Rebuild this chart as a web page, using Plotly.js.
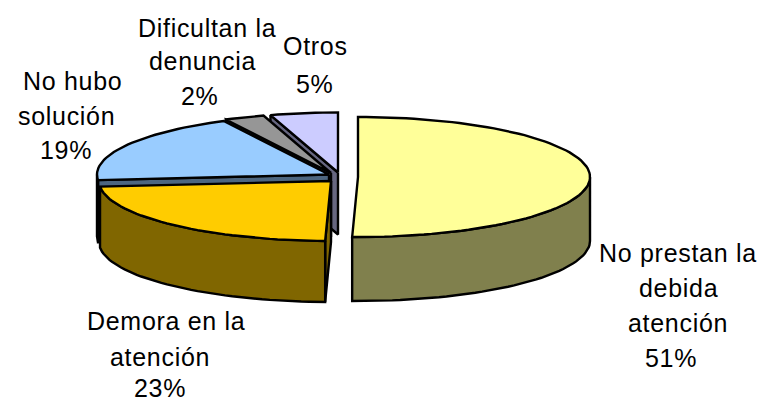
<!DOCTYPE html>
<html>
<head>
<meta charset="utf-8">
<script src="https://cdn.plot.ly/plotly-3.0.1.min.js"></script>
<style>html,body{margin:0;padding:0;background:#fff}#c{width:763px;height:401px}.annotation-text{letter-spacing:0.7px}</style>
</head>
<body>
<div id="c"></div>
<script>
// Data (clockwise from 12 o'clock)
const categories = ["No prestan la debida atención", "Demora en la atención", "No hubo solución", "Dificultan la denuncia", "Otros"];
const shares = [50.4, 23.1, 19, 2.8, 4.7];
const percentLabels = ["51%", "23%", "19%", "2%", "5%"];

// Styles and layout
const topColors = ["#FFFF99", "#FFCC00", "#99CCFF", "#969696", "#CCCCFF"];
const wallColors = ["#80804D", "#806600", "#4D6680", "#4B4B4B", "#666680"];
const centersX = [358, 331, 329, 331, 338];
const centersY = [177, 181, 174.5, 173, 172.5];
const depths = [64, 61, 62, 62, 62];
const rx = 232, ry = 60;
const labelLines = [
  [["No prestan la", 678, 253], ["debida", 678, 288], ["atención", 678, 323], [percentLabels[0], 671, 358]],
  [["Demora en la", 166, 321], ["atención", 160, 357], [percentLabels[1], 160, 388]],
  [["No hubo", 72, 81], ["solución", 66, 116], [percentLabels[2], 66, 150]],
  [["Dificultan la", 207, 28], ["denuncia", 202, 61], [percentLabels[3], 200, 96]],
  [["Otros", 315, 46], [percentLabels[4], 315, 84]]
];

const total = shares.reduce((a, b) => a + b, 0);
const traces = [];
function poly(pts, color) {
  traces.push({
    type: "scatter", mode: "lines", x: pts.map(p => p[0]), y: pts.map(p => p[1]),
    fill: "toself", fillcolor: color, line: {color: "#000", width: 2.4, shape: "linear"},
    hoverinfo: "skip", showlegend: false
  });
}
function rim(i, deg, dy) {
  const a = deg * Math.PI / 180;
  return [centersX[i] + rx * Math.sin(a), centersY[i] - ry * Math.cos(a) + (dy || 0)];
}
function range(a0, a1) {
  const n = Math.max(2, Math.ceil((a1 - a0) / 2)), out = [];
  for (let k = 0; k <= n; k++) out.push(a0 + (a1 - a0) * k / n);
  return out;
}
let acc = 0;
const slices = shares.map((v, i) => {
  const s = {i, a0: acc / total * 360, a1: (acc + v) / total * 360};
  acc += v;
  return s;
});
// A cut face shows only when its outward normal points at the viewer (180 degrees).
function faces(a, n) {
  const nn = ((n % 360) + 360) % 360;
  return nn > 90 && nn < 270;
}
// Painter's order: back slices first, the front slices over them.
[4, 3, 2, 1, 0].forEach(i => {
  const {a0, a1} = slices[i], d = depths[i], cx = centersX[i], cy = centersY[i], wc = wallColors[i];
  [[a0, a0 - 90], [a1, a1 + 90]].forEach(([a, n]) => {
    if (!faces(a, n)) return;
    const r = rim(i, a), rb = rim(i, a, d);
    poly([[cx, cy], r, rb, [cx, cy + d], [cx, cy]], wc);
  });
  const w0 = Math.max(a0, 90), w1 = Math.min(a1, 270);
  if (w1 > w0) {
    const ang = range(w0, w1);
    const upper = ang.map(a => rim(i, a));
    const lower = ang.slice().reverse().map(a => rim(i, a, d));
    poly(upper.concat(lower, [upper[0]]), wc);
  }
  const arc = range(a0, a1).map(a => rim(i, a));
  poly([[cx, cy]].concat(arc, [[cx, cy]]), topColors[i]);
});

const annotations = [];
labelLines.forEach(lines => lines.forEach(([text, x, y]) => annotations.push({
  text, x, y, xref: "x", yref: "y", showarrow: false, xanchor: "center", yanchor: "middle",
  font: {family: "Liberation Sans, Arial, sans-serif", size: 25, color: "#000"}
})));

Plotly.newPlot("c", traces, {
  width: 763, height: 401, margin: {l: 0, r: 0, t: 0, b: 0},
  paper_bgcolor: "#fff", plot_bgcolor: "#fff", showlegend: false,
  xaxis: {range: [0, 763], visible: false, fixedrange: true},
  yaxis: {range: [401, 0], visible: false, fixedrange: true},
  annotations
}, {displayModeBar: false, staticPlot: true});
</script>
</body>
</html>
